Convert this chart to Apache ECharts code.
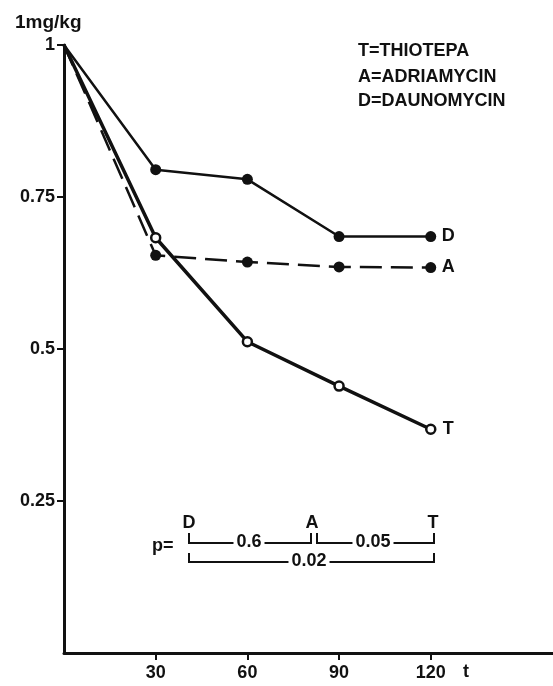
<!DOCTYPE html>
<html>
<head>
<meta charset="utf-8">
<script src="https://cdn.jsdelivr.net/npm/echarts@6/dist/echarts.min.js"></script>
<style>
html,body{margin:0;padding:0;background:#fff;}
#c{width:553px;height:686px;}
</style>
</head>
<body>
<div id="c"></div>
<script>
// ---- data ----
const times = [0, 30, 60, 90, 120];
const thiotepa   = [1, 0.683, 0.512, 0.439, 0.368];
const adriamycin = [1, 0.654, 0.643, 0.635, 0.634];
const daunomycin = [1, 0.795, 0.779, 0.685, 0.685];
const xTicks = [30, 60, 90, 120];
const yTicks = [0.25, 0.5, 0.75, 1];
const legendLines = ['T=THIOTEPA', 'A=ADRIAMYCIN', 'D=DAUNOMYCIN'];
const pGroups = ['D', 'A', 'T'];
const pValues = ['0.6', '0.05', '0.02'];

const FONT = '"Liberation Sans", Arial, sans-serif';
const INK = '#111';
const FW = 'bold';

function pts(vals) {
  return times.map((t, i) => {
    const item = { value: [t, vals[i]] };
    if (i === 0) item.symbol = 'none';
    return item;
  });
}

function txt(text, x, y, align, extra) {
  return {
    type: 'text', x: x, y: y, z: 10,
    style: Object.assign({
      text: text, fill: INK, fontFamily: FONT, fontSize: 18, fontWeight: FW,
      align: align || 'left', verticalAlign: 'middle'
    }, extra || {})
  };
}
function bracket(x1, x2, yb, ytop) {
  return {
    type: 'polyline', z: 5,
    shape: { points: [[x1, ytop], [x1, yb], [x2, yb], [x2, ytop]] },
    style: { stroke: INK, lineWidth: 2, fill: null }
  };
}
const bg = { backgroundColor: '#fff', padding: [0, 3] };
const lbl = { color: INK, fontFamily: FONT, fontSize: 18, fontWeight: FW };

const chart = echarts.init(document.getElementById('c'), null, { renderer: 'canvas' });
chart.setOption({
  animation: false,
  backgroundColor: '#fff',
  grid: { left: 64, right: 0, top: 45, bottom: 33, containLabel: false, outerBoundsMode: 'none' },
  xAxis: {
    type: 'value', min: 0, max: 160,
    axisLine: { show: true, lineStyle: { color: INK, width: 3 } },
    axisTick: { show: true, customValues: xTicks, length: 7, lineStyle: { color: INK, width: 2 } },
    axisLabel: Object.assign({ customValues: xTicks, margin: 11 }, lbl),
    splitLine: { show: false }
  },
  yAxis: {
    type: 'value', min: 0, max: 1,
    axisLine: { show: true, lineStyle: { color: INK, width: 3 } },
    axisTick: { show: true, customValues: yTicks, length: 7, lineStyle: { color: INK, width: 2 } },
    axisLabel: Object.assign({ customValues: yTicks, margin: 9 }, lbl),
    splitLine: { show: false }
  },
  series: [
    {
      name: 'D', type: 'line', data: pts(daunomycin),
      symbol: 'circle', symbolSize: 11,
      itemStyle: { color: INK },
      lineStyle: { color: INK, width: 2.5 },
      endLabel: Object.assign({ show: true, formatter: 'D', distance: 11 }, lbl)
    },
    {
      name: 'A', type: 'line', data: pts(adriamycin),
      symbol: 'circle', symbolSize: 11,
      itemStyle: { color: INK },
      lineStyle: { color: INK, width: 2.5, type: [22, 9] },
      endLabel: Object.assign({ show: true, formatter: 'A', distance: 11 }, lbl)
    },
    {
      name: 'T', type: 'line', data: pts(thiotepa),
      symbol: 'circle', symbolSize: 9,
      itemStyle: { color: '#fff', borderColor: INK, borderWidth: 2.5 },
      lineStyle: { color: INK, width: 3.5 },
      endLabel: Object.assign({ show: true, formatter: 'T', distance: 12 }, lbl)
    }
  ],
  graphic: [
    txt('1mg/kg', 15, 23, 'left', { fontSize: 19 }),
    txt(legendLines[0], 358, 51, 'left'),
    txt(legendLines[1], 358, 77, 'left'),
    txt(legendLines[2], 358, 101, 'left'),
    txt('t', 463, 672, 'left'),
    txt('p=', 152, 546, 'left'),
    txt(pGroups[0], 189, 523, 'center'),
    txt(pGroups[1], 312, 523, 'center'),
    txt(pGroups[2], 433, 523, 'center'),
    bracket(189, 311, 543, 533),
    bracket(317, 434, 543, 533),
    bracket(189, 434, 562, 553),
    txt(pValues[0], 249, 542, 'center', bg),
    txt(pValues[1], 373, 542, 'center', bg),
    txt(pValues[2], 309, 561, 'center', bg)
  ]
});
</script>
</body>
</html>
